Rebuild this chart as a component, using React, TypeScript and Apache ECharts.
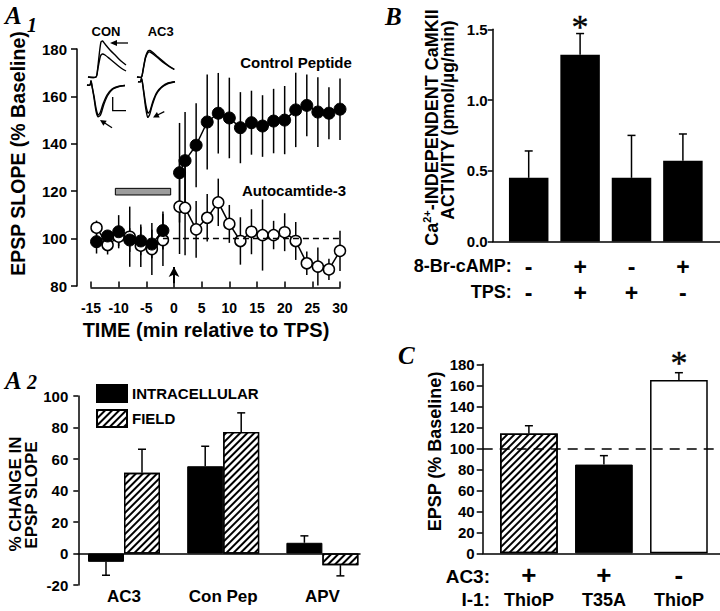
import React, { useEffect, useRef } from 'react';
import * as echarts from 'echarts';

const FONT = "'Liberation Sans', Arial, Helvetica, sans-serif";
const SERIF = "'Liberation Serif', 'Times New Roman', Times, serif";
const BLACK = '#000';

// ---------------- Panel A1 : EPSP slope time course ----------------
const a1TimePre = [-14, -12, -10, -8, -6, -4, -2];
const a1TimePost = [1, 2, 4, 6, 8, 10, 12, 14, 16, 18, 20, 22, 24, 26, 28, 30];
const conPepPre = [98.7, 101.1, 102.9, 99.4, 99.0, 97.7, 103.4];
const conPepPreErr = [5, 2, 7, 5, 6, 6, 8];
const conPepPost = [127.8, 132.9, 139.4, 149.2, 152.9, 150.9, 146.8, 148.9, 147.5, 149.6, 150.0, 154.3, 156.2, 153.4, 152.9, 154.6];
const conPepPostErr = [21, 20.5, 17.7, 20, 17, 17, 15, 13.5, 13, 13.6, 14.4, 15.7, 13, 14.7, 11, 13];
const ac3Pre = [104.6, 97.3, 100.8, 100.8, 97.0, 95.6, 99.4];
const ac3PreErr = [3, 4, 4, 12.7, 9, 11, 11];
const ac3Post = [113.5, 113.0, 103.9, 108.8, 115.3, 106.2, 99.0, 102.9, 101.5, 101.5, 102.7, 99.0, 89.6, 88.2, 87.0, 94.8];
const ac3PostErr = [20, 20, 12, 10, 10, 8, 10, 9.5, 15, 6, 8, 8, 5, 8, 4.5, 8.5];
const a1TimeRange = [-15, 30, 5];
const a1SlopeRange = [80, 180, 20];
const drugWindow = [-10.6, -0.6];
const drugBand = [118.4, 121.2];
const baselineLevel = 100;
const baselineFrom = -2;
const tpsTime = 0;
const tpsArrowSpan = [81.2, 88];

// ---------------- Panel B : CaMKII activity ----------------
const bBromo = ['-', '+', '-', '+'];
const bTps = ['-', '+', '+', '-'];
const bValues = [0.45, 1.32, 0.45, 0.57];
const bErr = [0.19, 0.15, 0.3, 0.19];
const bSignificant = [false, true, false, false];
const bRange = [0, 1.5, 0.5];

// ---------------- Panel A2 : % change ----------------
const a2Cats = ['AC3', 'Con Pep', 'APV'];
const a2Intra = [-5.3, 55.4, 6.8];
const a2IntraErr = [8.5, 12.7, 4.4];
const a2Field = [51.2, 77.2, -7.4];
const a2FieldErr = [15, 12.1, 6.8];
const a2Range = [-20, 100, 20];

// ---------------- Panel C : EPSP with I-1 ----------------
const cAc3 = ['+', '+', '-'];
const cI1 = ['ThioP', 'T35A', 'ThioP'];
const cValues = [114, 84.5, 165];
const cErr = [7.5, 8.5, 7];
const cSignificant = [false, false, true];
const cRange = [0, 180, 20];
const cBaseline = 100;

// styles (not data)
const cBarKinds = ['hatched', 'solid', 'open'];

const hatch = {
  symbol: 'rect',
  symbolSize: 1,
  dashArrayX: [1, 0],
  dashArrayY: [1.3, 2.6],
  rotation: -Math.PI / 4,
  color: BLACK,
};
const crossDecal = {
  symbol: 'rect',
  symbolSize: 0.7,
  dashArrayX: [2, 1],
  dashArrayY: [2, 1],
  rotation: Math.PI / 4,
  color: '#333',
};

const axisLineStyle = { color: BLACK, width: 1.5 };
const labelBase = { color: BLACK, fontFamily: FONT, fontWeight: 'bold' as const };

function T(x: number, y: number, text: string, fontSize: number, opts: any = {}) {
  return {
    type: 'text',
    x,
    y,
    rotation: opts.rotation || 0,
    silent: true,
    z: 50,
    style: {
      text,
      fontSize,
      fontFamily: opts.fontFamily || FONT,
      fontWeight: opts.fontWeight || 'bold',
      fontStyle: opts.fontStyle || 'normal',
      fill: BLACK,
      align: opts.align || 'center',
      verticalAlign: 'middle',
      rich: opts.rich,
    },
  };
}
function PL(points: number[][], smooth = 0.25, lw = 1.4) {
  return { type: 'polyline', silent: true, z: 50, shape: { points, smooth }, style: { stroke: BLACK, lineWidth: lw, fill: null } };
}
function PG(points: number[][]) {
  return { type: 'polygon', silent: true, z: 50, shape: { points }, style: { fill: BLACK } };
}

function vErr(offset: number, cap: number) {
  return (_p: any, api: any) => {
    const x = api.value(0);
    const v = api.value(1);
    const e = api.value(2);
    const end = v >= 0 ? v + e : v - e;
    const p0 = api.coord([x, v]);
    const p1 = api.coord([x, end]);
    const cx = p0[0] + offset;
    return {
      type: 'group',
      children: [
        { type: 'line', shape: { x1: cx, y1: p0[1], x2: cx, y2: p1[1] }, style: { stroke: BLACK, lineWidth: 1.5 } },
        { type: 'line', shape: { x1: cx - cap, y1: p1[1], x2: cx + cap, y2: p1[1] }, style: { stroke: BLACK, lineWidth: 1.5 } },
      ],
    };
  };
}
function symErr(_p: any, api: any) {
  const x = api.value(0);
  const v = api.value(1);
  const e = api.value(2);
  const p0 = api.coord([x, v - e]);
  const p1 = api.coord([x, v + e]);
  return { type: 'line', shape: { x1: p0[0], y1: p0[1], x2: p1[0], y2: p1[1] }, style: { stroke: BLACK, lineWidth: 1.5 } };
}

const zip = (xs: number[], ys: number[]) => xs.map((x, i) => [x, ys[i]]);
const zip3 = (xs: number[], ys: number[], es: number[]) => xs.map((x, i) => [x, ys[i], es[i]]);

function hiddenAxis(gridIndex: number, min: number, max: number) {
  return { gridIndex, type: 'value', min, max, show: false };
}
function lineOnlyX(gridIndex: number, onZero: boolean) {
  return {
    gridIndex,
    type: 'value',
    min: 0,
    max: 1,
    axisLine: { show: true, onZero, lineStyle: axisLineStyle },
    axisTick: { show: false },
    axisLabel: { show: false },
    splitLine: { show: false },
  };
}

function buildOption(): any {
  const BW_B = 39.5;
  const BW_A2 = 36;
  const BW_C = 57.7;

  const grids = [
    { left: 91, top: 49, width: 249, height: 237 }, // A1
    { left: 503, top: 29.3, width: 205.6, height: 212.2 }, // B
    { left: 492.7, top: 29.3, right: 0, height: 212.2 }, // B baseline
    { left: 74.4, top: 396, width: 297.6, height: 189 }, // A2
    { left: 78.3, top: 396, width: 281.7, height: 189 }, // A2 zero line
    { left: 491.4, top: 364.3, width: 225, height: 189 }, // C
    { left: 482.7, top: 364.3, right: 0, height: 189 }, // C baseline
  ].map((g) => ({ ...g, containLabel: false, outerBoundsMode: 'none', show: false }));

  const xAxis = [
    {
      gridIndex: 0,
      type: 'value',
      min: a1TimeRange[0],
      max: a1TimeRange[1],
      interval: a1TimeRange[2],
      offset: 1.5,
      axisLine: { show: true, onZero: false, lineStyle: axisLineStyle },
      axisTick: { show: true, inside: true, length: 6, lineStyle: axisLineStyle },
      axisLabel: { ...labelBase, fontSize: 14, margin: 13 },
      splitLine: { show: false },
    },
    {
      gridIndex: 1,
      type: 'category',
      data: bBromo.map((b, i) => b + '/' + bTps[i]),
      axisLine: { show: false },
      axisTick: { show: false },
      axisLabel: {
        margin: 12,
        interval: 0,
        formatter: (_v: string, i: number) => `{s|${bBromo[i]}}\n{s|${bTps[i]}}`,
        rich: { s: { ...labelBase, fontSize: 23, lineHeight: 26 } },
      },
    },
    lineOnlyX(2, false),
    {
      gridIndex: 3,
      type: 'category',
      data: a2Cats,
      axisLine: { show: false, onZero: false },
      axisTick: { show: false },
      axisLabel: { ...labelBase, fontSize: 17, margin: 3, interval: 0 },
    },
    lineOnlyX(4, true),
    {
      gridIndex: 5,
      type: 'category',
      data: cAc3.map((a, i) => a + ' ' + cI1[i]),
      axisLine: { show: false },
      axisTick: { show: false },
      axisLabel: {
        margin: 9,
        interval: 0,
        formatter: (_v: string, i: number) => `{s|${cAc3[i]}}\n{t|${cI1[i]}}`,
        rich: {
          s: { ...labelBase, fontSize: 26, lineHeight: 26 },
          t: { ...labelBase, fontSize: 18, lineHeight: 24 },
        },
      },
    },
    lineOnlyX(6, false),
  ];

  const yBase = (gridIndex: number, range: number[], offset: number, margin: number, tickLen: number, fmt?: any) => ({
    gridIndex,
    type: 'value',
    min: range[0],
    max: range[1],
    interval: range[2],
    offset,
    axisLine: { show: true, onZero: false, lineStyle: axisLineStyle },
    axisTick: { show: true, length: tickLen, lineStyle: axisLineStyle },
    axisLabel: { ...labelBase, fontSize: 15, margin, formatter: fmt },
    splitLine: { show: false },
  });

  const yAxis = [
    yBase(0, a1SlopeRange, 14, 10, 6),
    yBase(1, bRange, 10.3, 5, 5, (v: number) => v.toFixed(1)),
    hiddenAxis(2, 0, 1),
    yBase(3, a2Range, -3.9, 10, 5),
    hiddenAxis(4, a2Range[0], a2Range[1]),
    yBase(5, cRange, 8.7, 8, 6),
    hiddenAxis(6, cRange[0], cRange[1]),
  ];

  const filledLine = {
    type: 'line',
    xAxisIndex: 0,
    yAxisIndex: 0,
    symbol: 'circle',
    symbolSize: 12,
    itemStyle: { color: BLACK, borderColor: BLACK, borderWidth: 1 },
    lineStyle: { color: BLACK, width: 1.5 },
    z: 4,
  };
  const openLine = {
    type: 'line',
    xAxisIndex: 0,
    yAxisIndex: 0,
    symbol: 'circle',
    symbolSize: 11,
    itemStyle: { color: '#fff', borderColor: BLACK, borderWidth: 1.5 },
    lineStyle: { color: BLACK, width: 1.5 },
    z: 3,
  };
  const a1Err = { type: 'custom', xAxisIndex: 0, yAxisIndex: 0, renderItem: symErr, z: 2, silent: true };
  const starLabel = (dy: number) => ({
    show: true,
    position: 'inside',
    formatter: '*',
    fontSize: 34,
    fontWeight: 'normal',
    fontFamily: SERIF,
    color: BLACK,
    opacity: 1,
    textBorderColor: BLACK,
    textBorderWidth: 0.35,
    offset: [0, dy],
  });

  const series: any[] = [
    // A1 error bars
    { ...a1Err, data: zip3(a1TimePre, ac3Pre, ac3PreErr) },
    { ...a1Err, data: zip3(a1TimePost, ac3Post, ac3PostErr) },
    { ...a1Err, data: zip3(a1TimePre, conPepPre, conPepPreErr) },
    { ...a1Err, data: zip3(a1TimePost, conPepPost, conPepPostErr) },
    {
      ...openLine,
      data: zip(a1TimePre, ac3Pre),
      markArea: {
        silent: true,
        itemStyle: { color: '#9c9c9c', borderColor: BLACK, borderWidth: 1, decal: crossDecal },
        data: [[{ coord: [drugWindow[0], drugBand[0]] }, { coord: [drugWindow[1], drugBand[1]] }]],
      },
    },
    {
      ...openLine,
      data: zip(a1TimePost, ac3Post),
      markLine: {
        silent: true,
        symbol: ['none', 'none'],
        label: { show: false },
        lineStyle: { color: BLACK, width: 1.3, type: [6, 4] },
        data: [[{ coord: [baselineFrom, baselineLevel] }, { coord: [a1TimeRange[1], baselineLevel] }]],
      },
    },
    { ...filledLine, data: zip(a1TimePre, conPepPre) },
    {
      ...filledLine,
      data: zip(a1TimePost, conPepPost),
      markLine: {
        silent: true,
        symbol: ['none', 'arrow'],
        symbolSize: [8, 10],
        label: { show: false },
        lineStyle: { color: BLACK, width: 2, type: 'solid' },
        data: [[{ coord: [tpsTime, tpsArrowSpan[0]] }, { coord: [tpsTime, tpsArrowSpan[1]] }]],
      },
    },

    // B
    { type: 'bar', xAxisIndex: 1, yAxisIndex: 1, data: bValues, barWidth: BW_B, itemStyle: { color: BLACK }, z: 2 },
    { type: 'custom', xAxisIndex: 1, yAxisIndex: 1, renderItem: vErr(0, 4), data: zip3(bValues.map((_, i) => i), bValues, bErr), z: 3 },
    {
      type: 'scatter',
      xAxisIndex: 1,
      yAxisIndex: 1,
      symbolSize: 0.1,
      itemStyle: { color: BLACK },
      data: bValues.map((v, i) => (bSignificant[i] ? [i, v + bErr[i]] : null)).filter(Boolean),
      label: starLabel(-7),
      z: 5,
    },

    // A2
    {
      type: 'bar',
      name: 'INTRACELLULAR',
      xAxisIndex: 3,
      yAxisIndex: 3,
      data: a2Intra,
      barWidth: BW_A2,
      barGap: '0%',
      itemStyle: { color: BLACK, borderColor: BLACK, borderWidth: 1 },
      z: 2,
    },
    {
      type: 'bar',
      name: 'FIELD',
      xAxisIndex: 3,
      yAxisIndex: 3,
      data: a2Field,
      barWidth: BW_A2,
      barGap: '0%',
      itemStyle: { color: '#fff', borderColor: BLACK, borderWidth: 1.3, decal: hatch },
      z: 2,
    },
    { type: 'custom', xAxisIndex: 3, yAxisIndex: 3, renderItem: vErr(-BW_A2 / 2, 4), data: zip3(a2Cats.map((_, i) => i), a2Intra, a2IntraErr), z: 3 },
    { type: 'custom', xAxisIndex: 3, yAxisIndex: 3, renderItem: vErr(BW_A2 / 2, 4), data: zip3(a2Cats.map((_, i) => i), a2Field, a2FieldErr), z: 3 },

    // C
    {
      type: 'bar',
      xAxisIndex: 5,
      yAxisIndex: 5,
      barWidth: BW_C,
      z: 2,
      data: cValues.map((v, i) => {
        const kind = cBarKinds[i];
        if (kind === 'solid') return { value: v, itemStyle: { color: BLACK, borderColor: BLACK, borderWidth: 1 } };
        if (kind === 'hatched') return { value: v, itemStyle: { color: '#fff', borderColor: BLACK, borderWidth: 1.5, decal: hatch } };
        return { value: v, itemStyle: { color: '#fff', borderColor: BLACK, borderWidth: 1.5 } };
      }),
    },
    { type: 'custom', xAxisIndex: 5, yAxisIndex: 5, renderItem: vErr(0, 4), data: zip3(cValues.map((_, i) => i), cValues, cErr), z: 3 },
    {
      type: 'scatter',
      xAxisIndex: 5,
      yAxisIndex: 5,
      symbolSize: 0.1,
      itemStyle: { color: BLACK },
      data: cValues.map((v, i) => (cSignificant[i] ? [i, v + cErr[i]] : null)).filter(Boolean),
      label: starLabel(-10),
      z: 5,
    },
    {
      type: 'line',
      xAxisIndex: 6,
      yAxisIndex: 6,
      data: [],
      z: 6,
      markLine: {
        silent: true,
        symbol: ['none', 'none'],
        label: { show: false },
        lineStyle: { color: BLACK, width: 1.6, type: [10, 7] },
        data: [{ yAxis: cBaseline }],
      },
    },
  ];

  const graphic: any[] = [
    // panel letters
    T(5, 15, 'A', 25, { fontFamily: SERIF, fontStyle: 'italic', align: 'left' }),
    T(27, 25, '1', 20, { fontFamily: SERIF, fontStyle: 'italic', align: 'left' }),
    T(5, 380, 'A', 25, { fontFamily: SERIF, fontStyle: 'italic', align: 'left' }),
    T(27, 382, '2', 20, { fontFamily: SERIF, fontStyle: 'italic', align: 'left' }),
    T(385, 16.7, 'B', 25, { fontFamily: SERIF, fontStyle: 'italic', align: 'left' }),
    T(398, 355, 'C', 25, { fontFamily: SERIF, fontStyle: 'italic', align: 'left' }),

    // A1 texts
    T(18, 153.5, 'EPSP SLOPE (% Baseline)', 19.5, { rotation: Math.PI / 2 }),
    T(206, 330, 'TIME (min relative to TPS)', 20),
    T(296, 62, 'Control Peptide', 15),
    T(294, 190, 'Autocamtide-3', 15),
    T(106, 31.7, 'CON', 13),
    T(160.7, 31.7, 'AC3', 13),

    // A1 inset traces: CON
    PL([[88, 77], [96, 77], [97.5, 70], [99.5, 52], [101, 42], [102.5, 41], [105, 44], [110, 50], [116, 56], [121, 61], [126, 65]]),
    PL([[88, 77], [96, 77], [98, 68], [100.5, 56], [102.5, 54], [105, 55], [110, 59], [116, 64], [121, 68], [126, 71]]),
    PL([[113, 43], [128, 43]], 0, 1.3),
    PG([[110, 43], [117, 40], [117, 46]]),
    PL([[87, 85], [90, 85], [91, 81], [92, 86], [94, 96], [96, 108], [98, 115], [100, 113], [103, 104], [107, 95], [112, 89], [118, 86.5], [125, 85.5]]),
    PL([[87, 85], [90, 85], [91, 81], [92, 86], [94, 98], [96, 111], [98, 116.7], [100.5, 115], [104, 104], [108, 95], [113, 89], [119, 86.5], [125, 85.5]]),
    PL([[104, 122.5], [112, 127.7]], 0, 1.3),
    PG([[100, 120], [106.7, 120.7], [103.4, 125.8]]),
    PL([[112.7, 97], [112.7, 110.7], [126, 110.7]], 0, 1.3),
    // A1 inset traces: AC3
    PL([[137, 77], [141.5, 77], [143, 70], [145.5, 57], [148, 51], [150, 50.5], [153, 52.5], [158, 57], [164, 62], [169, 66], [174.3, 69.3]]),
    PL([[137, 77], [141.5, 77], [143, 71], [145.5, 58], [148, 52.5], [150, 52], [153, 54], [158, 58], [164, 63], [169, 66.5], [174.3, 69.5]]),
    PL([[138, 81.7], [140.5, 81.7], [141.5, 78.5], [142.5, 83], [144, 95], [146, 110], [147.7, 117.3], [149.5, 115], [152, 106], [156, 95], [161, 88], [167, 84], [175, 81.7]]),
    PL([[138, 81.7], [140.5, 81.7], [141.5, 78.5], [142.5, 83], [144, 93], [146, 106], [148, 113], [150, 111], [153, 101], [157, 92], [162, 86.5], [168, 83], [175, 81.7]]),
    PL([[157.5, 115], [164.3, 111.7]], 0, 1.3),
    PG([[153, 117.5], [156.9, 112.1], [159.7, 117.5]]),

    // B texts
    T(431.7, 127.5, '{m|Ca}{s|2+}{m|-INDEPENDENT CaMKII}', 18, {
      rotation: Math.PI / 2,
      rich: {
        m: { fontSize: 18, fontWeight: 'bold', fontFamily: FONT, lineHeight: 20 },
        s: { fontSize: 11, fontWeight: 'bold', fontFamily: FONT, lineHeight: 12, verticalAlign: 'top' },
      },
    }),
    T(448, 120, 'ACTIVITY (pmol/\u00b5g/min)', 17.5, { rotation: Math.PI / 2 }),
    T(511.7, 266, '8-Br-cAMP:', 18, { align: 'right' }),
    T(511.7, 292, 'TPS:', 18, { align: 'right' }),

    // A2 texts
    T(15, 494, '% CHANGE IN', 17, { rotation: Math.PI / 2 }),
    T(31, 495, 'EPSP SLOPE', 17, { rotation: Math.PI / 2 }),

    // C texts
    T(435, 451.5, 'EPSP (% Baseline)', 18, { rotation: Math.PI / 2 }),
    T(490, 576, 'AC3:', 19, { align: 'right' }),
    T(490, 599.5, 'I-1:', 19, { align: 'right' }),
  ];

  return {
    animation: false,
    backgroundColor: '#fff',
    textStyle: { fontFamily: FONT },
    tooltip: { show: false },
    grid: grids,
    xAxis,
    yAxis,
    legend: {
      show: true,
      data: ['INTRACELLULAR', 'FIELD'],
      orient: 'vertical',
      left: 96,
      top: 384,
      padding: 0,
      icon: 'rect',
      itemWidth: 30,
      itemHeight: 17,
      itemGap: 6,
      selectedMode: false,
      textStyle: { ...labelBase, fontSize: 15 },
    },
    series,
    graphic,
  };
}

export default function App() {
  const ref = useRef<HTMLDivElement>(null);
  useEffect(() => {
    const prevMargin = document.body.style.margin;
    document.body.style.margin = '0';
    const el = ref.current;
    if (!el) return;
    const chart = echarts.init(el, null, { renderer: 'svg' });
    chart.setOption(buildOption());
    return () => {
      chart.dispose();
      document.body.style.margin = prevMargin;
    };
  }, []);
  return <div ref={ref} style={{ width: 720, height: 611, background: '#fff', margin: 0 }} />;
}
